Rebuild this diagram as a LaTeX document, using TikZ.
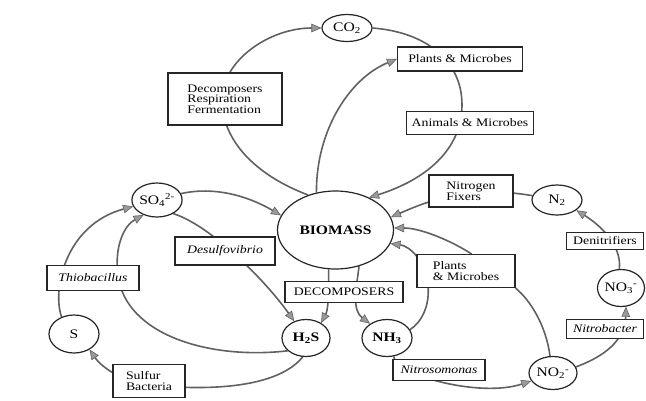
\documentclass[tikz,border=0pt]{standalone}
\usepackage{fontspec}
\setmainfont{Liberation Serif}[FakeStretch=1.2]
\usetikzlibrary{arrows.meta,shapes.geometric}
\pgfdeclarelayer{back}
\pgfdeclarelayer{paper}
\pgfsetlayers{paper,back,main}
\newcommand\dgboxfont{\fontsize{11.5}{10.5}\selectfont}
\newcommand\dgblobfont{\fontsize{13}{14}\selectfont}
\begin{document}
\begin{tikzpicture}[x=1pt,y=-1pt,
  box/.style={draw=black!85,line width=1.1pt,fill=white,inner sep=0pt,font=\dgboxfont,align=left},
  boxit/.style={box,font=\dgboxfont\itshape},
  blob/.style={ellipse,draw=black!85,line width=1.2pt,fill=white,inner sep=0pt,font=\dgblobfont},
  blobbf/.style={blob,font=\dgblobfont\bfseries},
  plainflow/.style={draw=black!62,line width=1.6pt},
  flow/.style={plainflow,-{Triangle[length=10pt,width=8.5pt,fill=black!40,line width=0.6pt]}}]
\begin{pgfonlayer}{paper}
\fill[white] (0,0) rectangle (646,400);
\end{pgfonlayer}
\useasboundingbox (0,0) rectangle (646,400);
% carbon
\node[blob, minimum width=50pt, minimum height=27pt] (co2) at (347,28) {CO\textsubscript{2}};
\node[box, minimum width=125pt, minimum height=24pt] (pm1) at (460,59) {Plants \& Microbes};
\node[box, minimum width=114pt, minimum height=52pt] (dec) at (225,99) {Decomposers\\Respiration\\Fermentation};
\node[box, minimum width=127pt, minimum height=23pt] (am) at (470,123) {Animals \& Microbes};
\node[blobbf, minimum width=116pt, minimum height=78pt] (bio) at (335.5,230) {BIOMASS};
% sulfur
\node[blob, minimum width=48pt, minimum height=34pt] (so4) at (157,200) {SO\textsubscript{4}\textsuperscript{2-}};
\node[blob, minimum width=50pt, minimum height=38pt] (s) at (74,334) {S};
\node[blobbf, minimum width=48pt, minimum height=37pt] (h2s) at (306,338) {H\textsubscript{2}S};
\node[boxit, minimum width=92pt, minimum height=25pt] (thio) at (93,278) {Thiobacillus};
\node[boxit, minimum width=100pt, minimum height=28pt] (desulf) at (225,251) {Desulfovibrio};
\node[box, minimum width=72pt, minimum height=33pt] (sb) at (149,381) {Sulfur\\Bacteria};
\node[box, minimum width=118pt, minimum height=21pt] (decomp) at (344,292) {DECOMPOSERS};
% nitrogen
\node[blobbf, minimum width=50pt, minimum height=37pt] (nh3) at (387,338) {NH\textsubscript{3}};
\node[boxit, minimum width=92pt, minimum height=21pt] (nitroso) at (439,370) {Nitrosomonas};
\node[blob, minimum width=48pt, minimum height=33pt] (no2) at (553,373) {NO\textsubscript{2}\textsuperscript{-}};
\node[boxit, minimum width=77pt, minimum height=19pt] (nitrob) at (605,329) {Nitrobacter};
\node[blob, minimum width=47pt, minimum height=37pt] (no3) at (621,288) {NO\textsubscript{3}\textsuperscript{-}};
\node[box, minimum width=77pt, minimum height=17pt] (denit) at (605,241) {Denitrifiers};
\node[blob, minimum width=50pt, minimum height=30pt] (n2) at (557,200) {N\textsubscript{2}};
\node[box, minimum width=84pt, minimum height=32pt] (nf) at (471,191) {Nitrogen\\Fixers};
\node[box, minimum width=98pt, minimum height=33pt] (pm2) at (466,271) {Plants\\\& Microbes};
\begin{pgfonlayer}{back}
\draw[flow] (bio.128) .. controls (255,175) and (222,140) .. (222,100) .. controls (222,60) and (270,28) .. (co2.west);
\draw[flow] (co2.east) .. controls (425,32) and (462,60) .. (462,105) .. controls (462,150) and (425,180) .. (bio.44);
\draw[flow] (bio.117) .. controls (316,130) and (350,78) .. (pm1.west);
\draw[flow] (so4.15) .. controls (220,185) and (255,200) .. (bio.165);
\draw[flow] (s.126) .. controls (52,290) and (65,225) .. (so4.195);
\draw[flow] (h2s.215) .. controls (210,360) and (125,335) .. (118,275) .. controls (114,245) and (125,225) .. (so4.228);
\draw[flow] (so4.320) .. controls (210,225) and (265,280) .. (h2s.125);
\draw[flow] (h2s.260) .. controls (280,385) and (220,392) .. (150,385) .. controls (120,382) and (100,365) .. (s.315);
\draw[flow] (bio.260) .. controls (329,295) and (328,310) .. (h2s.45);
\draw[flow] (bio.303) .. controls (356,290) and (352,310) .. (nh3.140);
\draw[flow] (n2.170) .. controls (470,185) and (430,200) .. (bio.13);
\draw[flow] (pm2.72) .. controls (450,240) and (420,228) .. (bio.2);
\draw[flow] (nh3.20) .. controls (422,322) and (430,305) .. (428,285) .. controls (426,262) and (410,246) .. (bio.346);
\draw[plainflow] (no2.100) .. controls (546,325) and (530,300) .. (pm2.south east);
\draw[flow] (nh3.290) .. controls (395,375) and (480,398) .. (no2.200);
\draw[flow] (no2.15) .. controls (595,360) and (625,345) .. (no3.-75);
\draw[flow] (no3.95) .. controls (622,245) and (600,225) .. (n2.-28);
\end{pgfonlayer}
\end{tikzpicture}
\end{document}
